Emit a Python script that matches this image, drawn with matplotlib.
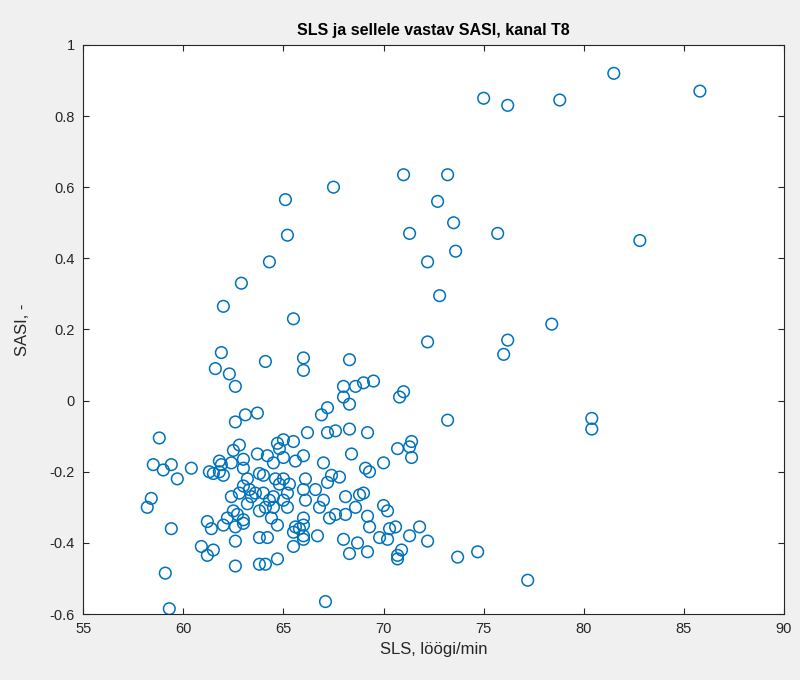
import numpy as np
import matplotlib
matplotlib.use("Agg")
import matplotlib.pyplot as plt
from matplotlib.ticker import FuncFormatter

plt.rcParams['font.family'] = ['Liberation Sans', 'DejaVu Sans']
plt.rcParams['axes.unicode_minus'] = False

# ── data (SLS, SASI) ───────────────────────────────────────────────
sls = [
    81.5, 85.8, 75.0, 76.2, 78.8, 71.0, 73.2, 67.5, 65.1, 72.7,
    73.5, 71.3, 75.7, 65.2, 82.8, 73.6, 64.3, 72.2, 62.9, 72.8,
    62.0, 65.5, 78.4, 76.2, 72.2, 76.0, 61.9, 66.0, 68.3, 64.1,
    61.6, 66.0, 62.3, 62.6, 69.5, 69.0, 68.6, 68.0, 71.0, 70.8,
    68.0, 68.3, 67.2, 66.9, 63.1, 63.7, 62.6, 80.4, 73.2, 68.3,
    67.6, 80.4, 67.2, 66.2, 69.2, 58.8, 71.4, 65.0, 65.5, 64.7,
    64.8, 70.7, 71.3, 62.5, 62.8, 68.4, 63.7, 64.2, 65.0, 71.4,
    66.0, 67.0, 65.6, 63.0, 61.8, 61.9, 62.4, 64.5, 70.0, 58.5,
    59.4, 60.4, 59.0, 61.3, 61.5, 63.8, 64.0, 63.0, 69.1, 69.3,
    67.4, 67.8, 67.2, 64.6, 65.0, 64.8, 65.3, 59.7, 63.2, 62.0,
    66.1, 61.8, 63.0, 63.3, 62.8, 63.6, 64.0, 64.5, 65.2, 66.0,
    66.6, 69.0, 68.8, 68.1, 63.4, 62.4, 58.4, 64.3, 65.0, 67.0,
    66.1, 70.0, 58.2, 63.2, 64.1, 64.5, 65.2, 66.8, 62.5, 63.8,
    67.6, 68.1, 70.2, 62.7, 62.2, 68.6, 69.2, 61.2, 63.0, 66.0,
    67.3, 64.4, 62.0, 61.4, 62.6, 63.0, 64.7, 65.6, 65.8, 66.0,
    59.4, 69.3, 70.3, 71.8, 70.6, 65.5, 66.0, 66.0, 66.7, 63.8,
    64.2, 62.6, 65.5, 68.7, 68.0, 69.8, 70.2, 71.3, 72.2, 61.5,
    60.9, 61.2, 68.3, 69.2, 70.7, 70.9, 70.7, 73.7, 74.7, 64.7,
    63.8, 64.1, 62.6, 59.1, 77.2, 67.1, 59.3,
]
sasi = [
    0.92, 0.87, 0.85, 0.83, 0.845, 0.635, 0.635, 0.60, 0.565, 0.56,
    0.50, 0.47, 0.47, 0.465, 0.45, 0.42, 0.39, 0.39, 0.33, 0.295,
    0.265, 0.23, 0.215, 0.17, 0.165, 0.13, 0.135, 0.12, 0.115, 0.11,
    0.09, 0.085, 0.075, 0.04, 0.055, 0.05, 0.04, 0.04, 0.025, 0.01,
    0.01, -0.01, -0.02, -0.04, -0.04, -0.035, -0.06, -0.05, -0.055, -0.08,
    -0.085, -0.08, -0.09, -0.09, -0.09, -0.105, -0.115, -0.11, -0.115, -0.12,
    -0.135, -0.135, -0.13, -0.14, -0.125, -0.15, -0.15, -0.155, -0.16, -0.16,
    -0.155, -0.175, -0.17, -0.165, -0.17, -0.18, -0.175, -0.175, -0.175, -0.18,
    -0.18, -0.19, -0.195, -0.20, -0.205, -0.205, -0.21, -0.19, -0.19, -0.20,
    -0.21, -0.215, -0.23, -0.22, -0.22, -0.235, -0.235, -0.22, -0.22, -0.21,
    -0.22, -0.20, -0.24, -0.25, -0.26, -0.26, -0.26, -0.27, -0.26, -0.25,
    -0.25, -0.26, -0.265, -0.27, -0.27, -0.27, -0.275, -0.28, -0.28, -0.28,
    -0.28, -0.295, -0.30, -0.29, -0.30, -0.30, -0.30, -0.30, -0.31, -0.31,
    -0.32, -0.32, -0.31, -0.32, -0.33, -0.30, -0.325, -0.34, -0.335, -0.33,
    -0.33, -0.33, -0.35, -0.36, -0.355, -0.345, -0.35, -0.355, -0.36, -0.35,
    -0.36, -0.355, -0.36, -0.355, -0.355, -0.37, -0.38, -0.39, -0.38, -0.385,
    -0.385, -0.395, -0.41, -0.40, -0.39, -0.385, -0.39, -0.38, -0.395, -0.42,
    -0.41, -0.435, -0.43, -0.425, -0.435, -0.42, -0.445, -0.44, -0.425, -0.445,
    -0.46, -0.46, -0.465, -0.485, -0.505, -0.565, -0.585,
]

x_ticks = [55, 60, 65, 70, 75, 80, 85, 90]
y_ticks = [-0.6, -0.4, -0.2, 0, 0.2, 0.4, 0.6, 0.8, 1]

# ── plot ───────────────────────────────────────────────────────────
fig = plt.figure(figsize=(8.0, 6.8), dpi=100, facecolor='#f0f0f0')
ax = fig.add_axes([0.104, 0.097, 0.876, 0.837])
ax.set_facecolor('white')

ax.scatter(sls, sasi, s=70, facecolors='none', edgecolors='#0072BD',
           linewidths=1.1, zorder=3)

ax.set_xlim(55, 90)
ax.set_ylim(-0.6, 1)
ax.set_xticks(x_ticks)
ax.set_yticks(y_ticks)
ax.yaxis.set_major_formatter(FuncFormatter(lambda v, p: f'{v:g}'))

dark = '#262626'
for sp in ax.spines.values():
    sp.set_color(dark)
    sp.set_linewidth(0.8)
ax.tick_params(direction='in', length=4, width=0.8, colors=dark,
               labelsize=10.5, top=True, right=True, pad=6)

ax.set_title('SLS ja sellele vastav SASI, kanal T8', fontsize=11.5,
             fontweight='bold', color='black', pad=7)
ax.set_xlabel('SLS, löögi/min', fontsize=12, color=dark, labelpad=4)
ax.set_ylabel('SASI, -', fontsize=12, color=dark, labelpad=14)

fig.savefig('out.png', dpi=100, facecolor=fig.get_facecolor())
